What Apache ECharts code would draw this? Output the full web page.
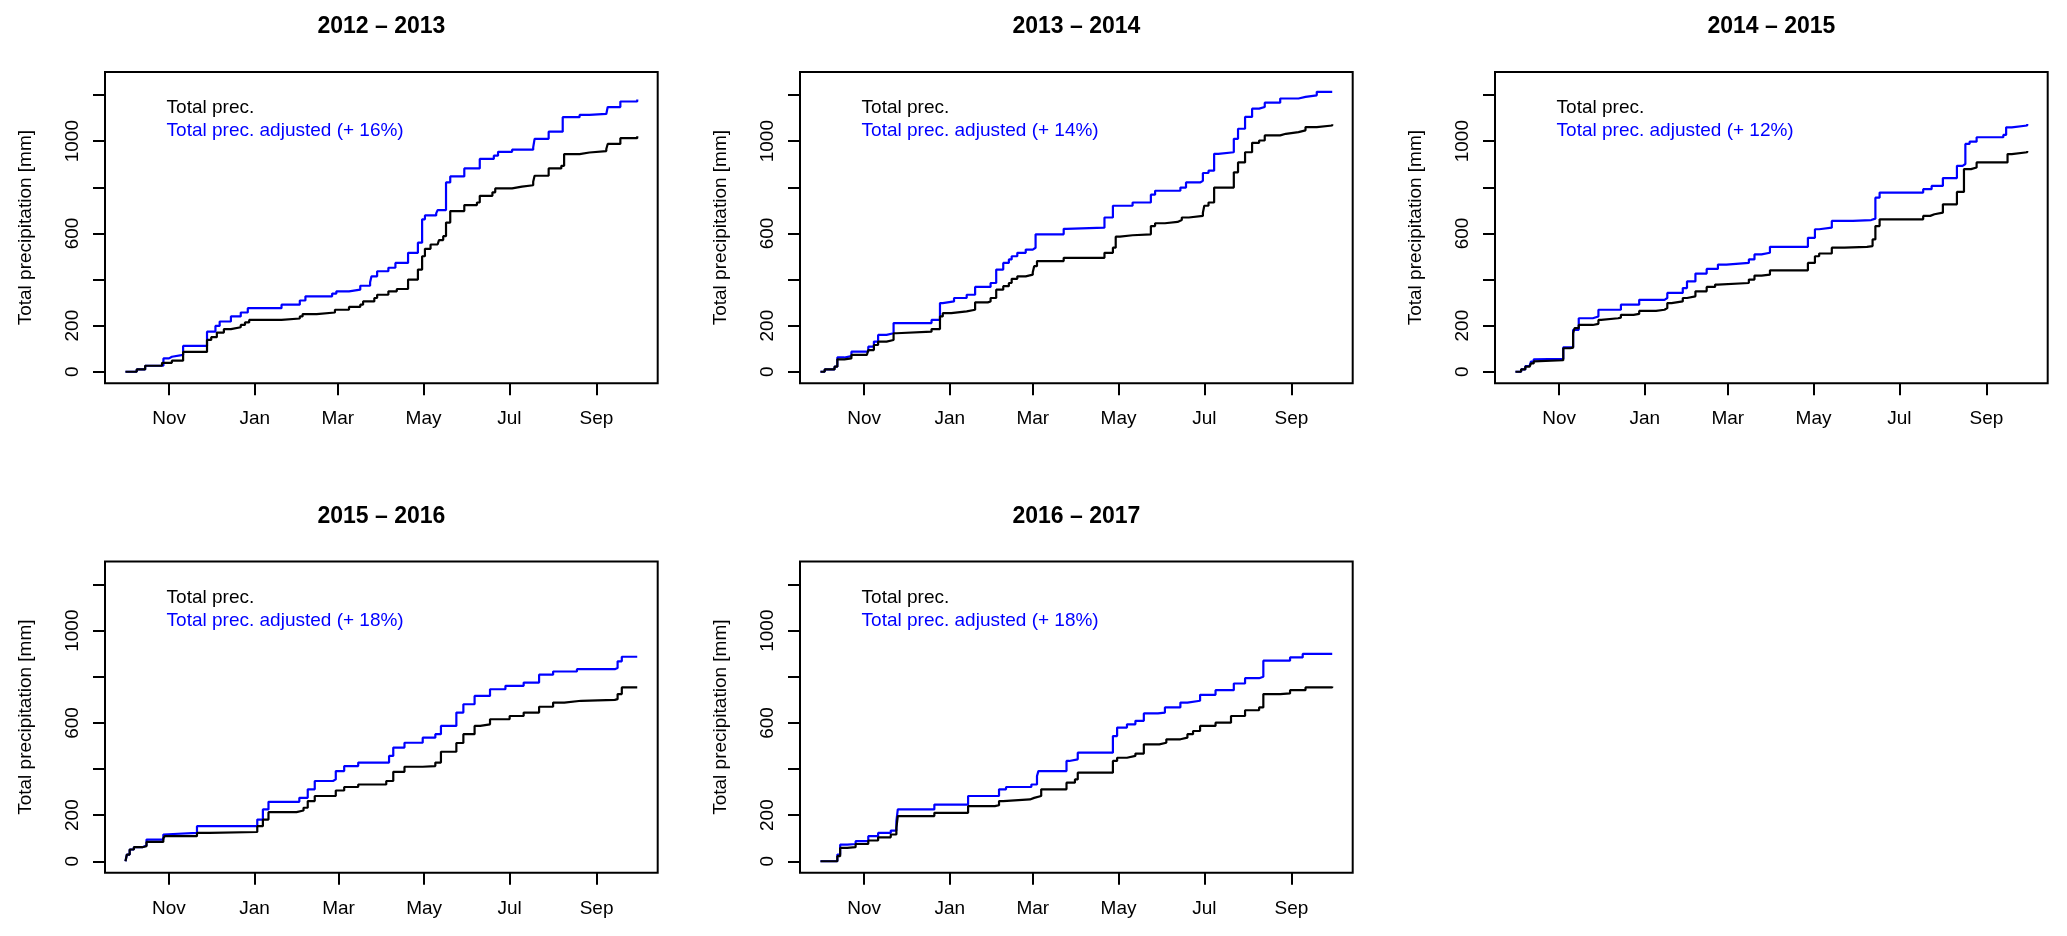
<!DOCTYPE html>
<html>
<head>
<meta charset="utf-8">
<script src="https://cdn.jsdelivr.net/npm/echarts@6/dist/echarts.min.js"></script>
<style>
html,body{margin:0;padding:0;background:#fff;}
#chart{width:2067px;height:936px;}
</style>
</head>
<body>
<div id="chart"></div>
<script>
// ---------------- data ----------------
const seasonTitles = ['2012 \u2013 2013', '2013 \u2013 2014', '2014 \u2013 2015', '2015 \u2013 2016', '2016 \u2013 2017'];
const seasonStartYears = [2012, 2013, 2014, 2015, 2016];
const adjustedLabels = ['Total prec. adjusted (+ 16%)', 'Total prec. adjusted (+ 14%)', 'Total prec. adjusted (+ 12%)', 'Total prec. adjusted (+ 18%)', 'Total prec. adjusted (+ 18%)'];
const totalLabel = 'Total prec.';
const yAxisTitle = 'Total precipitation [mm]';
const monthTickNames = ['Nov', 'Jan', 'Mar', 'May', 'Jul', 'Sep'];
const monthTickMonths = [10, 0, 2, 4, 6, 8];
const monthTickYearOffsets = [0, 1, 1, 1, 1, 1];
const yTickValues = [0, 200, 400, 600, 800, 1000, 1200];
const yLabelValues = [0, 200, 600, 1000];

// [day since 1 Oct, cumulative mm]
const total2012 = [[0,0],[8,10],[14,26],[26,39],[33,48],[41,86],[58,138],[61,150],[65,170],[70,185],[75,193],[82,203],[85,214],[88,225],[111,231],[124,240],[126,250],[136,257],[149,269],[159,281],[167,291],[169,305],[177,320],[179,334],[187,349],[193,359],[201,400],[208,443],[211,501],[213,533],[217,552],[222,560],[223,571],[226,588],[228,647],[231,697],[241,723],[250,734],[252,763],[261,778],[263,795],[275,803],[282,809],[290,824],[291,850],[301,882],[310,893],[312,944],[323,951],[330,957],[342,966],[343,988],[352,1013],[364,1021]];
const adjusted2012 = [[0,0],[8,10],[14,26],[27,58],[31,65],[33,73],[41,112],[58,174],[64,199],[67,218],[75,240],[82,257],[87,276],[111,291],[124,309],[128,327],[147,339],[150,349],[159,356],[167,373],[174,388],[175,414],[179,436],[187,451],[192,472],[201,516],[208,560],[211,661],[213,678],[221,687],[222,701],[228,821],[231,847],[241,882],[252,923],[262,937],[265,954],[275,963],[290,973],[291,1010],[301,1041],[311,1104],[323,1114],[330,1118],[342,1123],[343,1148],[352,1172],[364,1181]];

const total2013 = [[0,0],[3,10],[10,22],[12,54],[17,58],[22,73],[33,80],[34,94],[38,116],[41,131],[47,138],[52,167],[54,174],[79,185],[85,240],[87,254],[93,262],[104,269],[110,301],[119,305],[121,320],[125,356],[130,371],[134,385],[136,403],[140,414],[146,421],[151,432],[152,458],[154,480],[173,494],[202,516],[208,538],[210,586],[213,592],[222,596],[235,632],[238,644],[245,650],[254,658],[257,669],[262,676],[272,690],[273,720],[276,734],[280,799],[294,865],[297,908],[302,952],[307,993],[312,1003],[316,1025],[327,1032],[331,1039],[340,1047],[345,1061],[353,1068],[364,1073]];
const adjusted2013 = [[0,0],[3,10],[10,22],[12,62],[17,68],[22,87],[34,109],[38,131],[41,160],[47,167],[52,211],[79,225],[85,298],[87,305],[95,320],[104,334],[110,368],[121,385],[125,443],[130,472],[134,487],[136,501],[140,516],[146,530],[151,538],[153,596],[173,620],[175,625],[202,669],[208,720],[222,734],[235,768],[238,785],[256,799],[260,821],[270,828],[272,862],[276,872],[280,945],[283,952],[294,1010],[297,1054],[302,1105],[307,1141],[312,1148],[316,1167],[327,1185],[340,1192],[345,1199],[353,1214],[364,1217]];

const total2014 = [[0,0],[4,10],[7,22],[10,25],[11,36],[13,45],[14,50],[34,102],[39,105],[41,167],[42,189],[45,203],[55,208],[59,225],[61,232],[73,235],[75,247],[84,251],[88,264],[100,269],[106,276],[108,298],[111,305],[119,320],[122,327],[128,349],[136,368],[142,378],[144,385],[166,400],[170,417],[175,421],[181,440],[208,472],[213,501],[216,513],[225,538],[234,542],[250,545],[254,574],[256,632],[259,661],[290,676],[295,683],[298,690],[304,726],[314,780],[319,879],[324,886],[328,908],[350,944],[353,952],[364,957]];
const adjusted2014 = [[0,0],[4,10],[7,25],[10,29],[11,44],[13,54],[14,56],[34,106],[41,182],[45,232],[55,240],[59,269],[75,291],[88,312],[106,320],[108,342],[119,363],[122,392],[128,426],[136,446],[144,465],[150,472],[166,487],[170,509],[175,516],[181,542],[208,581],[213,618],[216,625],[225,654],[240,658],[253,664],[256,755],[259,777],[290,792],[296,806],[304,840],[314,893],[318,901],[320,988],[323,998],[328,1017],[347,1027],[349,1060],[353,1068],[364,1074]];

const total2015 = [[0,0],[1,29],[3,51],[6,61],[12,65],[15,84],[27,99],[28,109],[51,123],[60,127],[94,152],[98,181],[102,213],[122,220],[127,232],[130,261],[135,283],[150,307],[156,322],[166,333],[186,348],[191,388],[199,410],[212,413],[221,428],[225,475],[236,513],[241,551],[249,587],[253,594],[260,616],[274,630],[284,645],[295,670],[305,688],[313,696],[325,700],[349,703],[351,725],[354,754],[365,754]];
const adjusted2015 = [[0,0],[1,29],[3,51],[6,61],[12,68],[15,94],[27,116],[28,123],[51,152],[94,181],[98,225],[102,258],[124,275],[130,312],[135,348],[148,355],[150,391],[156,413],[166,428],[188,457],[191,493],[199,514],[212,536],[221,551],[225,587],[236,645],[241,681],[249,717],[260,746],[271,761],[284,775],[295,809],[305,823],[322,833],[349,838],[351,867],[354,887],[365,887]];

const total2016 = [[0,0],[12,22],[14,58],[19,61],[25,75],[34,90],[41,104],[50,116],[54,145],[55,196],[81,210],[105,239],[124,243],[127,261],[130,268],[149,275],[152,283],[157,312],[175,341],[181,355],[183,384],[208,435],[211,449],[218,457],[224,467],[230,507],[241,514],[246,529],[256,536],[261,551],[265,565],[270,587],[281,601],[292,630],[302,655],[312,667],[315,725],[327,728],[334,742],[345,754],[364,758]];
const adjusted2016 = [[0,0],[12,29],[14,72],[19,75],[25,87],[34,109],[41,123],[50,133],[54,174],[55,225],[81,246],[105,283],[127,312],[132,322],[150,333],[154,370],[155,391],[175,435],[177,442],[183,471],[208,543],[211,580],[218,594],[224,609],[230,641],[240,645],[245,667],[256,688],[261,696],[270,722],[281,742],[294,771],[302,794],[312,800],[315,870],[334,884],[343,899],[364,901]];

const totals = [total2012, total2013, total2014, total2015, total2016];
const adjusteds = [adjusted2012, adjusted2013, adjusted2014, adjusted2015, adjusted2016];

// ---------------- layout ----------------
const DAY = 86400000;
const colLeft = [105, 800, 1495];
const rowTop = [72, 561.5];
const boxW = 552.7, boxH = 311.3;
const FONT = 'Liberation Sans, Arial, Helvetica, sans-serif';
const FS = 19;

const option = {
  animation: false,
  backgroundColor: '#ffffff',
  textStyle: { fontFamily: FONT },
  title: [], legend: [], grid: [], xAxis: [], yAxis: [], series: []
};

seasonTitles.forEach((t, i) => {
  const left = colLeft[i % 3];
  const top = rowTop[Math.floor(i / 3)];
  const y0 = seasonStartYears[i];
  const start = Date.UTC(y0, 9, 1);
  const endDay = Math.round((Date.UTC(y0 + 1, 8, 30) - start) / DAY);
  const pad = endDay * 0.04;
  const tickDays = monthTickMonths.map((m, k) => Math.round((Date.UTC(y0 + monthTickYearOffsets[k], m, 1) - start) / DAY));
  const labelMap = {};
  tickDays.forEach((v, k) => { labelMap[v] = monthTickNames[k]; });

  option.title.push({
    text: t, left: left + boxW / 2, top: top - 45, padding: 0,
    textAlign: 'center', textVerticalAlign: 'middle',
    textStyle: { fontFamily: FONT, fontSize: 23, fontWeight: 'bold', color: '#000' }
  });
  option.grid.push({
    left: left, top: top, width: boxW, height: boxH,
    show: true, borderColor: '#000', borderWidth: 2, backgroundColor: 'transparent'
  });
  option.xAxis.push({
    type: 'value', gridIndex: i, min: -pad, max: endDay + pad, position: 'bottom',
    axisLine: { show: false, onZero: false },
    axisTick: { show: true, inside: false, length: 12, customValues: tickDays, lineStyle: { color: '#000', width: 2 } },
    axisLabel: {
      show: true, margin: 26, customValues: tickDays, color: '#000', fontSize: FS, fontFamily: FONT,
      formatter: v => labelMap[Math.round(v)] || ''
    },
    splitLine: { show: false }, minorTick: { show: false }
  });
  option.yAxis.push({
    type: 'value', gridIndex: i, min: -50, max: 1300, position: 'left',
    name: yAxisTitle, nameLocation: 'middle', nameRotate: 90, nameGap: 70,
    nameTextStyle: { color: '#000', fontSize: FS, fontFamily: FONT },
    axisLine: { show: false, onZero: false },
    axisTick: { show: true, inside: false, length: 12, customValues: yTickValues, lineStyle: { color: '#000', width: 2 } },
    axisLabel: { show: true, rotate: 90, margin: 23, customValues: yLabelValues, color: '#000', fontSize: FS, fontFamily: FONT,
      formatter: v => String(Math.round(v)) },
    splitLine: { show: false }
  });
  option.series.push({
    name: totalLabel, type: 'line', xAxisIndex: i, yAxisIndex: i, step: 'end',
    showSymbol: false, symbol: 'none', data: totals[i],
    lineStyle: { color: '#000', width: 2.2 }, itemStyle: { color: '#000' }, z: 3
  });
  option.series.push({
    name: adjustedLabels[i], type: 'line', xAxisIndex: i, yAxisIndex: i, step: 'end',
    showSymbol: false, symbol: 'none', data: adjusteds[i],
    lineStyle: { color: '#0000ff', width: 2.2 }, itemStyle: { color: '#0000ff' }, z: 2
  });
  option.legend.push({
    orient: 'vertical', left: left + 51, top: top + 24.5, padding: 0, itemGap: 0,
    itemWidth: 0, itemHeight: 14, selectedMode: false,
    itemStyle: { opacity: 0 }, lineStyle: { opacity: 0 },
    textStyle: { fontSize: FS, fontFamily: FONT, lineHeight: 23, color: '#000' },
    data: [
      { name: totalLabel, textStyle: { color: '#000' } },
      { name: adjustedLabels[i], textStyle: { color: '#0000ff' } }
    ]
  });
});

const chart = echarts.init(document.getElementById('chart'), null, { renderer: 'canvas' });
chart.setOption(option);
</script>
</body>
</html>
